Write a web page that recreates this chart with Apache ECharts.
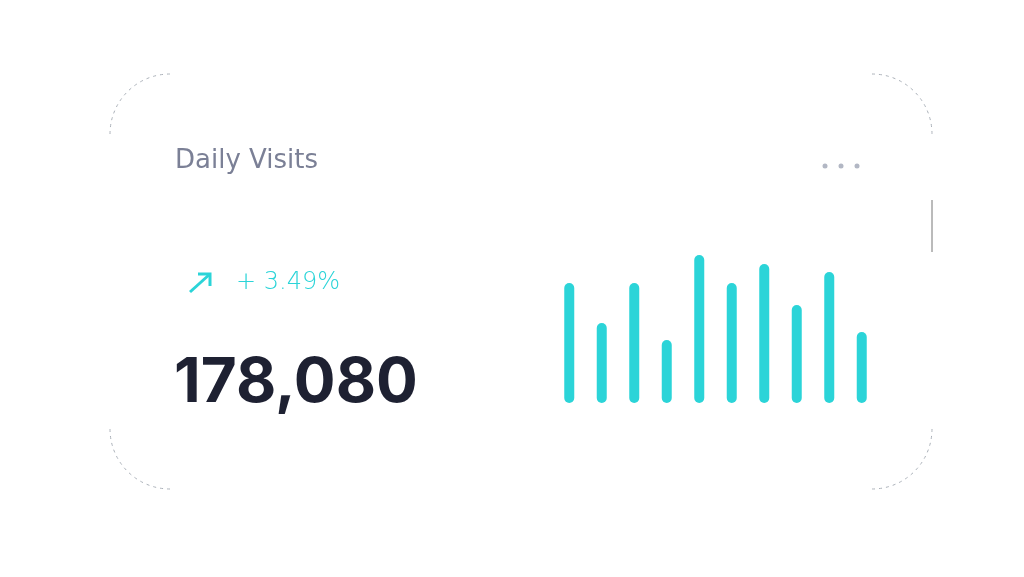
<!DOCTYPE html>
<html><head><meta charset="utf-8">
<script src="https://cdn.jsdelivr.net/npm/echarts@6/dist/echarts.min.js"></script>
<style>html,body{margin:0;padding:0;background:#fff}#c{width:1024px;height:577px}</style>
</head><body><div id="c"></div>
<script>
const categories = ['1','2','3','4','5','6','7','8','9','10'];
const visits = [120, 80, 120, 63, 148, 120, 139, 98, 131, 71];
const titleText = 'Daily Visits';
const changeText = '+ 3.49%';
const totalText = '178,080';

const chart = echarts.init(document.getElementById('c'));
const teal = '#2bd4d8';
const cornerStyle = {stroke:'#aab0b8', lineWidth:1, lineDash:[3,4], fill:null};
chart.setOption({
  animation:false,
  grid:{left:553, right:146, top:253, bottom:174},
  xAxis:{type:'category', data:categories, show:false},
  yAxis:{type:'value', min:0, max:150, show:false},
  series:[{type:'bar', data:visits, barWidth:10,
    itemStyle:{color:teal, borderRadius:5}}],
  graphic:[
    {type:'arc', shape:{cx:170, cy:134, r:60, startAngle:Math.PI, endAngle:1.5*Math.PI}, style:cornerStyle, silent:true},
    {type:'arc', shape:{cx:872, cy:134, r:60, startAngle:1.5*Math.PI, endAngle:2*Math.PI}, style:cornerStyle, silent:true},
    {type:'arc', shape:{cx:872, cy:429, r:60, startAngle:0, endAngle:0.5*Math.PI}, style:cornerStyle, silent:true},
    {type:'arc', shape:{cx:170, cy:429, r:60, startAngle:0.5*Math.PI, endAngle:Math.PI}, style:cornerStyle, silent:true},
    {type:'line', shape:{x1:932, y1:200, x2:932, y2:252}, style:{stroke:'#777', lineWidth:1}, silent:true},
    {type:'text', left:175, top:148, style:{text:titleText, font:'400 26px "DejaVu Sans", sans-serif', fill:'#7b8096'}},
    {type:'circle', shape:{cx:825, cy:166, r:2.5}, style:{fill:'#b2b7c4'}},
    {type:'circle', shape:{cx:841, cy:166, r:2.5}, style:{fill:'#b2b7c4'}},
    {type:'circle', shape:{cx:857, cy:166, r:2.5}, style:{fill:'#b2b7c4'}},
    {type:'polyline', shape:{points:[[190,292],[210,274]]}, style:{stroke:teal, lineWidth:3}},
    {type:'polyline', shape:{points:[[198,274],[210,274],[210,286]]}, style:{stroke:teal, lineWidth:3, fill:null}},
    {type:'text', left:236, top:271, style:{text:changeText, font:'200 24px "DejaVu Sans", sans-serif', fill:teal}},
    {type:'text', left:174, top:352, style:{text:totalText, font:'700 62px Inter, sans-serif', fill:'#1e2132'}}
  ]
});
</script></body></html>
